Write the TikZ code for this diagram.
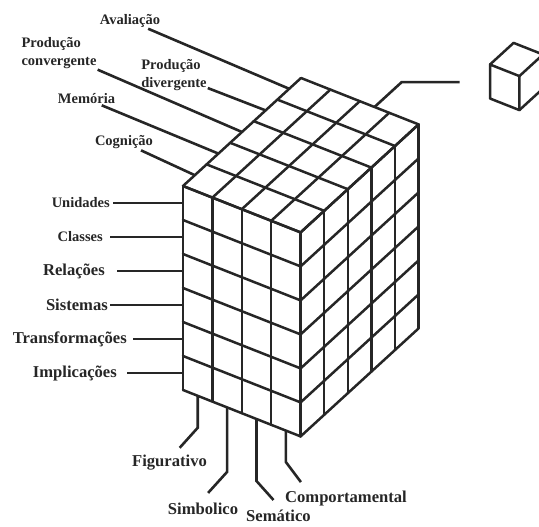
\documentclass[tikz,border=0pt]{standalone}
\usepackage{fontspec}
\setmainfont{Liberation Serif}
\usetikzlibrary{calc}
\definecolor{sGray}{RGB}{38,38,38}
\tikzstyle{line} = [draw, line width=2.6pt, sGray, fill=none]
\tikzstyle{cubeline} = [draw, line width=2.5pt, sGray, line cap=round, line join=round]

\begin{document}
\begin{tikzpicture}[
    x=1pt, y=-1pt,
    lbl/.style={
      font=\bfseries\fontsize{14.5}{18}\selectfont,
      text=sGray,
      align=left,
      inner sep=1pt,
    },
    blbl/.style={
      font=\bfseries\fontsize{16.6}{19}\selectfont,
      text=sGray,
      inner sep=1pt,
    },
    cube/.style={
      x={(29.4pt,-11.6pt)},
      y={(0pt,-34pt)},
      z={(23.6pt,21.6pt)},
    },
  ]

  \useasboundingbox (0,0) rectangle (539,527);

  % big cube: 4 contents x 6 products x 5 operations
  \begin{scope}[shift={(183,186)}, cube]
    % front face
    \foreach \i in {0,...,4} \draw[cubeline] (\i,0,0) -- (\i,6,0);
    \foreach \j in {0,...,6} \draw[cubeline] (0,\j,0) -- (4,\j,0);
    % right face
    \foreach \k in {0,...,5} \draw[cubeline] (4,0,\k) -- (4,6,\k);
    \foreach \j in {0,...,6} \draw[cubeline] (4,\j,0) -- (4,\j,5);
    % top face
    \foreach \i in {0,...,4} \draw[cubeline] (\i,0,0) -- (\i,0,5);
    \foreach \k in {0,...,5} \draw[cubeline] (0,0,\k) -- (4,0,\k);

    \coordinate (cogE) at (0,0,0.5);
    \coordinate (memE) at (0,0,1.5);
    \coordinate (convE) at (0,0,2.5);
    \coordinate (divE) at (0,0,3.5);
    \coordinate (avalE) at (0,0,4.5);

    \coordinate (uniE) at (0,0.5,0);
    \coordinate (clsE) at (0,1.5,0);
    \coordinate (relE) at (0,2.5,0);
    \coordinate (sisE) at (0,3.5,0);
    \coordinate (trfE) at (0,4.5,0);
    \coordinate (impE) at (0,5.5,0);

    \coordinate (figE) at (0.5,6,0);
    \coordinate (simE) at (1.5,6,0);
    \coordinate (semE) at (2.5,6,0);
    \coordinate (compE) at (3.5,6,0);

    \coordinate (cellE) at (2.5,0,5);
    \coordinate (cellK) at (2.5,0,6.15);
  \end{scope}

  % single cell
  \begin{scope}[shift={(490,64.5)}, cube]
    \draw[cubeline] (0,0,0) -- (1,0,0) -- (1,1,0) -- (0,1,0) -- cycle;
    \draw[cubeline] (0,0,0) -- (0,0,1) -- (1,0,1) -- (1,0,0);
    \draw[cubeline] (1,0,1) -- (1,1,1) -- (1,1,0);
  \end{scope}
  \coordinate (cellH) at ($(cellK)+(58,0)$);
  \draw[line] (cellE) -- (cellK) -- (cellH);

  % operations
  \node[lbl] (aval) at (130,21) {Avaliação};
  \node[lbl] (conv) at (59,53) {Produção\\convergente};
  \node[lbl] (div) at (174,75) {Produção\\divergente};
  \node[lbl] (mem) at (86.5,99) {Memória};
  \node[lbl] (cog) at (124,142.5) {Cognição};

  \draw[line] (aval) -- (avalE);
  \draw[line] (conv) -- (convE);
  \draw[line] (div) -- (divE);
  \draw[line] (mem) -- (memE);
  \draw[line] (cog) -- (cogE);

  % products
  \node[lbl,anchor=east] (uni) at (111,203) {Unidades};
  \node[lbl,anchor=east] (cls) at (104,237) {Classes};
  \node[blbl,anchor=east] (rel) at (106,271) {Relações};
  \node[blbl,anchor=east] (sis) at (109,305) {Sistemas};
  \node[blbl,anchor=east] (trf) at (128,339) {Transformações};
  \node[blbl,anchor=east] (imp) at (118,373) {Implicações};

  \draw[line,shorten <=2pt] (uni) -- (uniE);
  \draw[line,shorten <=6pt] (cls) -- (clsE);
  \draw[line,shorten <=11pt] (rel) -- (relE);
  \draw[line,shorten <=1pt] (sis) -- (sisE);
  \draw[line,shorten <=5pt] (trf) -- (trfE);
  \draw[line,shorten <=9pt] (imp) -- (impE);

  % contents
  \node[blbl] (fig) at (169.5,463) {Figurativo};
  \node[blbl] (sim) at (203,509) {Simbolico};
  \node[blbl] (sem) at (278.5,516) {Semático};
  \node[blbl] (comp) at (346,499) {Comportamental};

  \coordinate (figK) at ($(figE)+(0,32)$);
  \coordinate (figT) at ($(figK)+(-18,20)$);
  \coordinate (simK) at ($(simE)+(0,64.5)$);
  \coordinate (simT) at ($(simK)+(-19,21)$);
  \coordinate (semK) at ($(semE)+(0,62)$);
  \coordinate (semT) at ($(semK)+(17,19)$);
  \coordinate (compK) at ($(compE)+(0,31.5)$);
  \coordinate (compT) at ($(compK)+(15,20)$);

  \draw[line] (figE) -- (figK) -- (figT);
  \draw[line] (simE) -- (simK) -- (simT);
  \draw[line] (semE) -- (semK) -- (semT);
  \draw[line] (compE) -- (compK) -- (compT);

\end{tikzpicture}
\end{document}
